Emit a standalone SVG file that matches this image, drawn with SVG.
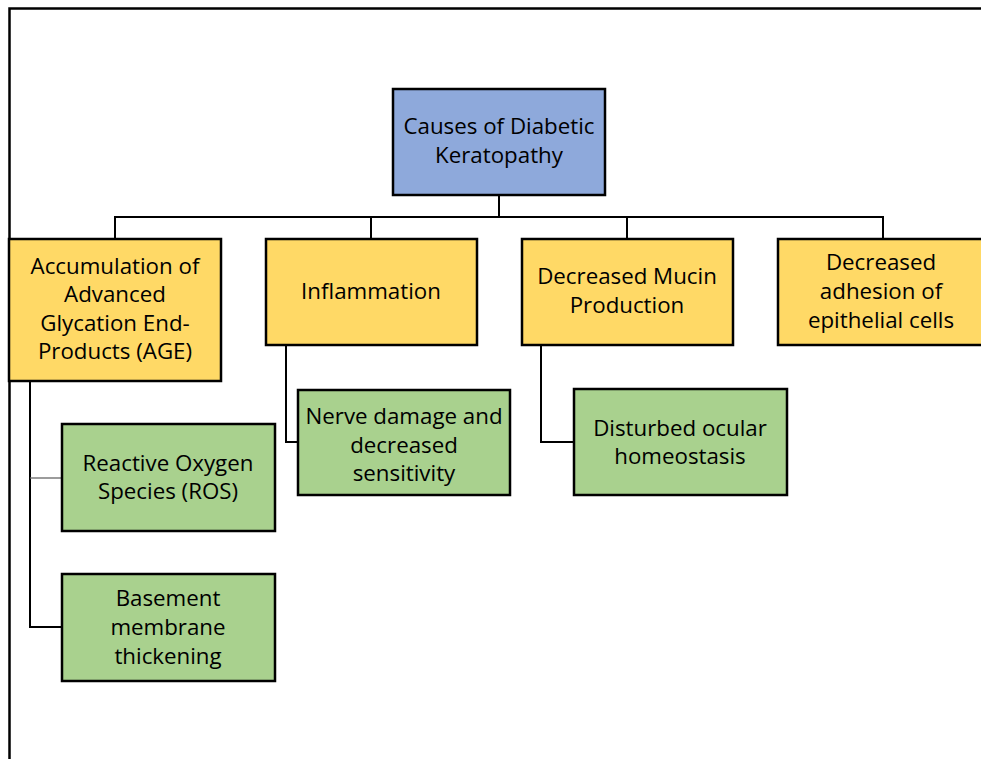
<svg xmlns="http://www.w3.org/2000/svg" width="981" height="759" viewBox="0 0 981 759">
<style>
.box{stroke:#000;stroke-width:2.5}
.root{fill:#8EA9DB}
.cat{fill:#FFD966}
.sub{fill:#A9D18E}
.t{font-family:"Open Sans","Liberation Sans",sans-serif;font-size:22.3px;fill:#000;text-anchor:middle}
.c{fill:none;stroke:#000;stroke-width:2}
</style>
<rect width="981" height="759" fill="#fff"/>
<g id="frame">
<path d="M9.5 759 V8.5 H981" fill="none" stroke="#000" stroke-width="2.5"/>
</g>
<g id="connectors">
<path class="c" d="M499 196 V217 M115 239 V217 H883 V239 M371 217 V239 M627 217 V239"/>
<path class="c" d="M30 381 V627 H62"/>
<path d="M30 478 H62" stroke="#666" stroke-width="1.3" fill="none"/>
<path class="c" d="M286 345 V442 H298"/>
<path class="c" d="M541 345 V442 H574"/>
</g>
<g id="root">
<rect class="box root" x="393" y="89" width="212" height="106"/>
<text class="t" x="499" y="134">Causes of Diabetic</text>
<text class="t" x="499" y="163">Keratopathy</text>
</g>
<g id="age">
<rect class="box cat" x="9" y="239" width="212" height="142"/>
<text class="t" x="115" y="274">Accumulation of</text>
<text class="t" x="115" y="302">Advanced</text>
<text class="t" x="115" y="331">Glycation End-</text>
<text class="t" x="115" y="359">Products (AGE)</text>
</g>
<g id="inflammation">
<rect class="box cat" x="266" y="239" width="211" height="106"/>
<text class="t" x="371" y="299">Inflammation</text>
</g>
<g id="mucin">
<rect class="box cat" x="522" y="239" width="211" height="106"/>
<text class="t" x="627" y="284">Decreased Mucin</text>
<text class="t" x="627" y="313">Production</text>
</g>
<g id="adhesion">
<rect class="box cat" x="778" y="239" width="215" height="106"/>
<text class="t" x="881" y="270">Decreased</text>
<text class="t" x="881" y="299">adhesion of</text>
<text class="t" x="881" y="328">epithelial cells</text>
</g>
<g id="ros">
<rect class="box sub" x="62" y="424" width="213" height="107"/>
<text class="t" x="168" y="471">Reactive Oxygen</text>
<text class="t" x="168" y="499">Species (ROS)</text>
</g>
<g id="basement">
<rect class="box sub" x="62" y="574" width="213" height="107"/>
<text class="t" x="168" y="606">Basement</text>
<text class="t" x="168" y="635">membrane</text>
<text class="t" x="168" y="664">thickening</text>
</g>
<g id="nerve">
<rect class="box sub" x="298" y="390" width="212" height="105"/>
<text class="t" x="404" y="424">Nerve damage and</text>
<text class="t" x="404" y="453">decreased</text>
<text class="t" x="404" y="481">sensitivity</text>
</g>
<g id="ocular">
<rect class="box sub" x="574" y="389" width="213" height="106"/>
<text class="t" x="680" y="436">Disturbed ocular</text>
<text class="t" x="680" y="464">homeostasis</text>
</g>
</svg>
